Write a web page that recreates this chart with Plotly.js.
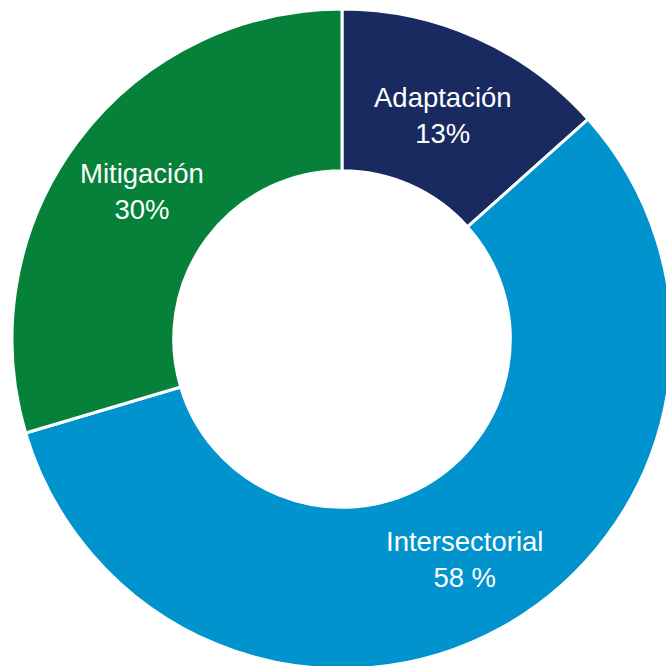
<!DOCTYPE html>
<html>
<head>
<meta charset="utf-8">
<script src="https://cdn.plot.ly/plotly-3.0.1.min.js"></script>
<style>
html,body{margin:0;padding:0;overflow:hidden;background:#fff;}
#chart{width:680px;height:680px;}
</style>
</head>
<body>
<div id="chart"></div>
<script>
var categories = ["Adaptación", "Intersectorial", "Mitigación"];
var shares = [13.4, 57.0, 29.6];
var shareLabels = ["13%", "58 %", "30%"];
var colors = ["#192a61", "#0093ce", "#068139"];

var W = 680, H = 680;
function px(x){ return x / W; }
function py(y){ return 1 - y / H; }

var labelPos = [[443, 115], [464, 559], [142, 191]];

var annotations = categories.map(function(c, i){
  return {
    text: c + "<br>" + shareLabels[i],
    x: px(labelPos[i][0]), y: py(labelPos[i][1]),
    xref: "paper", yref: "paper",
    xanchor: "center", yanchor: "middle",
    showarrow: false,
    font: {family: "Liberation Sans, Arial, sans-serif", size: 27.5, color: "#ffffff"}
  };
});

var trace = {
  type: "pie",
  labels: categories,
  values: shares,
  hole: 0.51,
  sort: false,
  direction: "clockwise",
  rotation: 0,
  textinfo: "none",
  hoverinfo: "label+percent",
  marker: {colors: colors, line: {color: "#ffffff", width: 3}},
  domain: {x: [12 / W, 672 / W], y: [1 - 669 / H, 1 - 9 / H]}
};

Plotly.newPlot("chart", [trace], {
  width: W, height: H,
  margin: {l: 0, r: 0, t: 0, b: 0},
  showlegend: false,
  paper_bgcolor: "#ffffff",
  annotations: annotations
}, {displayModeBar: false, staticPlot: true});
</script>
</body>
</html>
